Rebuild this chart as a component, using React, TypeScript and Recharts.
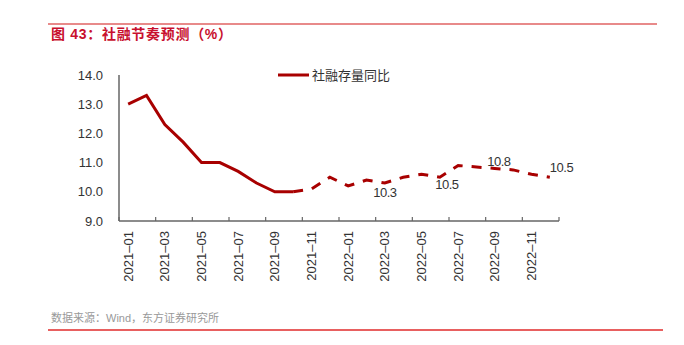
import { LineChart, Line, XAxis, YAxis, Legend } from "recharts";

const months = [
  "2021-01", "2021-02", "2021-03", "2021-04", "2021-05", "2021-06",
  "2021-07", "2021-08", "2021-09", "2021-10", "2021-11", "2021-12",
  "2022-01", "2022-02", "2022-03", "2022-04", "2022-05", "2022-06",
  "2022-07", "2022-08", "2022-09", "2022-10", "2022-11", "2022-12",
];

// 实际值（实线）
const actual: (number | null)[] = [
  13.0, 13.3, 12.3, 11.7, 11.0, 11.0, 10.7, 10.3, 10.0, 10.0,
  null, null, null, null, null, null, null, null, null, null, null, null, null, null,
];

// 预测值（虚线），从 2021-10 接上
const forecast: (number | null)[] = [
  null, null, null, null, null, null, null, null, null, 10.0,
  10.1, 10.5, 10.2, 10.4, 10.3, 10.5, 10.6, 10.5, 10.9, 10.85, 10.8, 10.75, 10.6, 10.5,
];

const yTicks = [9, 10, 11, 12, 13, 14];
const labelledMonths = ["2022-03", "2022-06", "2022-09", "2022-12"];

const data = months.map((m, i) => ({ month: m, actual: actual[i], forecast: forecast[i] }));

const RED = "#A80000";
const AXIS = "#666";
const TEXT = "#333";
const FONT = '"Liberation Sans", Arial, "Noto Sans CJK SC", sans-serif';
const BAND = 440 / months.length;

// 数据标签的相对位置
const labelPos: Record<string, { dx: number; dy: number; anchor: "middle" | "start" }> = {
  "2022-03": { dx: 0, dy: 9, anchor: "middle" },
  "2022-06": { dx: 7, dy: 7, anchor: "middle" },
  "2022-09": { dx: 4, dy: -7, anchor: "middle" },
  "2022-12": { dx: 0, dy: -10, anchor: "start" },
};

function MonthTick(props: any) {
  const { x, y, payload } = props;
  const half = payload.offset || BAND / 2;
  const axisY = y - 9;
  const isLast = months.indexOf(payload.value) === months.length - 2;
  return (
    <g>
      <line x1={x - half} y1={axisY - 4} x2={x - half} y2={axisY} stroke={AXIS} strokeWidth={1.2} />
      {isLast && <line x1={x + 3 * half} y1={axisY - 4} x2={x + 3 * half} y2={axisY} stroke={AXIS} strokeWidth={1.2} />}
      <text
        x={x}
        y={y + 1}
        transform={`rotate(-90 ${x} ${y + 1})`}
        textAnchor="end"
        dominantBaseline="central"
        fontSize={13}
        fill={TEXT}
        fontFamily={FONT}
      >
        {String(payload.value).replace("-", "–")}
      </text>
    </g>
  );
}

function ValueLabel(props: any) {
  const { x, y, value, index } = props;
  const pos = labelPos[months[index]];
  if (!pos || !labelledMonths.includes(months[index]) || value == null) return null;
  return (
    <text
      x={x + pos.dx}
      y={y + pos.dy}
      textAnchor={pos.anchor}
      dominantBaseline="central"
      fontSize={13}
      letterSpacing={-0.5}
      fill={TEXT}
      fontFamily={FONT}
    >
      {value.toFixed(1)}
    </text>
  );
}

function LegendContent() {
  return (
    <div style={{ display: "flex", alignItems: "center", fontFamily: FONT, fontSize: 13, color: TEXT }}>
      <svg width={32} height={4} style={{ marginRight: 2 }}>
        <line x1={0} y1={2} x2={31} y2={2} stroke={RED} strokeWidth={3} />
      </svg>
      <span>社融存量同比</span>
    </div>
  );
}

export default function App() {
  return (
    <div style={{ position: "absolute", left: 0, top: 0, width: 684, height: 345, background: "#fff", fontFamily: FONT }}>
      <div style={{ position: "absolute", left: 48, top: 23, width: 609, height: 2, background: "#E88A8A" }} />
      <div
        style={{
          position: "absolute", left: 51, top: 26, lineHeight: "17px",
          fontSize: 14, fontWeight: "bold", color: "#C8102E", letterSpacing: 0.7,
          fontFamily: '"Liberation Sans", "Noto Sans CJK SC", sans-serif',
        }}
      >
        图 43：社融节奏预测（%）
      </div>

      <div style={{ position: "absolute", left: 0, top: 0 }}>
        <LineChart width={684} height={345} data={data} margin={{ top: 75, right: 125, bottom: 64, left: 69 }}>
          <XAxis
            dataKey="month"
            scale="band"
            interval={1}
            tick={<MonthTick />}
            tickLine={false}
            tickMargin={3}
            height={60}
            axisLine={{ stroke: AXIS, strokeWidth: 1.5 }}
          />
          <YAxis
            domain={[9, 14]}
            ticks={yTicks}
            tickFormatter={(v: number) => v.toFixed(1)}
            tick={{ fontSize: 13, fill: TEXT, fontFamily: FONT }}
            tickLine={false}
            tickMargin={10}
            width={50}
            axisLine={{ stroke: AXIS, strokeWidth: 1.5 }}
          />
          <Legend
            layout="horizontal"
            verticalAlign="middle"
            align="center"
            content={<LegendContent />}
            wrapperStyle={{ position: "absolute", left: 278, top: 65, width: "auto" }}
          />
          <Line
            dataKey="actual"
            name="社融存量同比"
            stroke={RED}
            strokeWidth={3}
            dot={false}
            activeDot={false}
            connectNulls={false}
            isAnimationActive={false}
          />
          <Line
            dataKey="forecast"
            legendType="none"
            stroke={RED}
            strokeWidth={3}
            strokeDasharray="10 9"
            dot={false}
            activeDot={false}
            label={<ValueLabel />}
            isAnimationActive={false}
          />
        </LineChart>
      </div>

      <div style={{ position: "absolute", left: 51, top: 311, lineHeight: "14px", fontSize: 11, color: "#999" }}>
        数据来源：Wind，东方证券研究所
      </div>
      <div style={{ position: "absolute", left: 48, top: 329, width: 615, height: 2, background: "#E86060" }} />
    </div>
  );
}
